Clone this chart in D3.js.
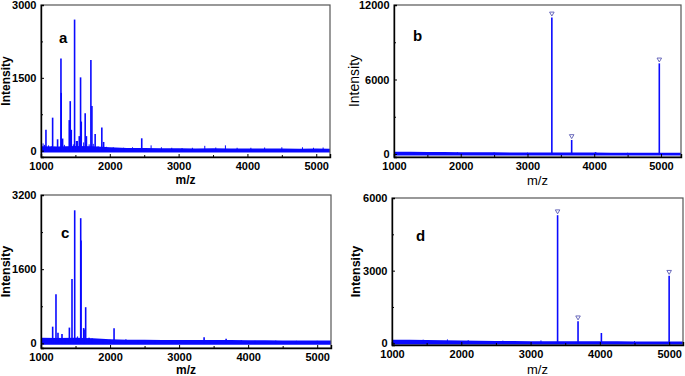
<!DOCTYPE html>
<html>
<head>
<meta charset="utf-8">
<script src="https://cdn.jsdelivr.net/npm/d3@7"></script>
<style>
  body { margin: 0; background: #fff; }
  svg { display: block; font-family: Arial, "Liberation Sans", sans-serif; }
</style>
</head>
<body>
<svg id="chart" width="685" height="376"></svg>
<script>
// ---- data: [m/z, intensity] ----
const peaksA = [[1072, 430], [1169, 680], [1241, 235], [1290, 1900], [1294, 1190], [1314, 250],
  [1411, 630], [1418, 560], [1425, 1020], [1440, 430], [1488, 2700], [1517, 200], [1556, 300],
  [1575, 1510], [1585, 600], [1642, 770], [1660, 300], [1725, 1866], [1740, 920], [1787, 343],
  [1884, 480], [1910, 180], [2464, 255]];
const grassA = [[1030, 150], [1050, 120], [1110, 110], [1150, 90], [1200, 80], [1340, 120], [1360, 80],
  [1470, 130], [1530, 200], [1620, 170], [1700, 130], [1760, 140], [1830, 90], [1950, 80], [2050, 70],
  [2200, 60], [2330, 70], [2600, 110], [2750, 70], [2900, 60], [3050, 55], [3200, 60], [3380, 100],
  [3540, 65], [3680, 110], [3850, 60], [4050, 60], [4250, 65], [4500, 70], [4800, 70], [4960, 60], [5100, 65]];

const peaksB = [[3365, 11000], [3662, 1130], [4020, 150], [4975, 7300]];
const markB = [3365, 3662, 4975];
const grassB = [[1300, 150], [1950, 140], [2500, 120], [3000, 110], [4500, 100]];

const peaksC = [[1169, 360], [1217, 1060], [1246, 230], [1304, 200], [1411, 340], [1449, 1390],
  [1488, 2870], [1522, 120], [1575, 2700], [1580, 2220], [1618, 330], [1624, 300], [1647, 780],
  [1696, 120], [2058, 325], [3362, 130], [3681, 100]];
const grassC = [[1040, 110], [1080, 100], [1120, 90], [1260, 120], [1350, 100], [1530, 150], [1700, 110],
  [1740, 110], [1900, 90], [2000, 80], [2230, 90], [2400, 70], [2650, 70], [2900, 65], [3100, 60],
  [3450, 70], [3550, 60], [3900, 70], [4100, 55], [4400, 60], [4700, 55], [5000, 55]];

const peaksD = [[3390, 5290], [3685, 910], [4022, 425], [5000, 2790]];
const markD = [3390, 3685, 5000];
const grassD = [[1450, 150], [1800, 160], [2100, 130], [2600, 110], [3150, 120], [4500, 90]];

// baseline noise band: top edge sampled along m/z, bottom edge as one level
const noiseMz = [1000, 1250, 1500, 1750, 2000, 2250, 2500, 2750, 3000, 3250, 3500, 3750, 4000, 4250, 4500, 4750, 5000, 5300];
const noiseTopA = [90, 85, 95, 90, 70, 55, 55, 50, 50, 45, 50, 45, 45, 45, 45, 40, 45, 40];
const noiseTopB = [190, 180, 170, 160, 150, 140, 140, 130, 130, 130, 120, 120, 120, 110, 110, 110, 110, 110];
const noiseTopC = [120, 115, 120, 110, 90, 80, 80, 75, 75, 70, 70, 70, 65, 65, 60, 60, 60, 60];
const noiseTopD = [150, 145, 140, 130, 120, 110, 100, 95, 90, 90, 85, 80, 80, 80, 75, 75, 75, 75];
const noiseBottom = { a: -35, b: -110, c: -30, d: -60 };

const yTicks = { a: [0, 1500, 3000], b: [0, 6000, 12000], c: [0, 1600, 3200], d: [0, 3000, 6000] };
const xTicks = [1000, 2000, 3000, 4000, 5000];
const xMinor = [1500, 2500, 3500, 4500];

const panels = [
  { id: "a", left: 41, right: 330, top: 5, bottom: 157, xMax: 5200, yMin: -130, yMax: 3000,
    peaks: peaksA, grass: grassA, noise: noiseTopA, marks: [], bold: true, ytitleX: 10, ytitleSize: 12,
    xtitleY: 184, xtitleSize: 12, letter: [59, 43] },
  { id: "b", left: 394, right: 681, top: 5, bottom: 157, xMax: 5300, yMin: -240, yMax: 12000,
    peaks: peaksB, grass: grassB, noise: noiseTopB, marks: markB, bold: false, ytitleX: 359, ytitleSize: 14,
    xtitleY: 185, xtitleSize: 13, letter: [413, 41] },
  { id: "c", left: 41, right: 331, top: 195, bottom: 348, xMax: 5200, yMin: -100, yMax: 3200,
    peaks: peaksC, grass: grassC, noise: noiseTopC, marks: [], bold: true, ytitleX: 10, ytitleSize: 12.5,
    xtitleY: 374, xtitleSize: 12, letter: [61, 238] },
  { id: "d", left: 392, right: 683, top: 198, bottom: 345, xMax: 5200, yMin: -70, yMax: 6000,
    peaks: peaksD, grass: grassD, noise: noiseTopD, marks: markD, bold: true, ytitleX: 360, ytitleSize: 12.5,
    xtitleY: 374, xtitleSize: 13, letter: [416, 241] }
];

const svg = d3.select("#chart");
const blue = "#0a0aff";

panels.forEach(p => {
  const g = svg.append("g");
  const x = d3.scaleLinear().domain([1000, p.xMax]).range([p.left, p.right]);
  const y = d3.scaleLinear().domain([p.yMin, p.yMax]).range([p.bottom, p.top]);

  g.append("clipPath").attr("id", "clip-" + p.id)
    .append("rect").attr("x", p.left).attr("y", p.top)
    .attr("width", p.right - p.left).attr("height", p.bottom - p.top);

  const plot = g.append("g").attr("clip-path", `url(#clip-${p.id})`);

  // noise band
  const band = noiseMz.map((m, i) => ({ m: m, t: p.noise[i] }));
  plot.append("path")
    .attr("fill", blue)
    .attr("d", d3.area().x(d => x(d.m)).y0(y(noiseBottom[p.id])).y1(d => y(d.t))(band));

  // small spikes and peaks
  plot.selectAll(".grass").data(p.grass).enter().append("line")
    .attr("x1", d => x(d[0])).attr("x2", d => x(d[0]))
    .attr("y1", y(0)).attr("y2", d => y(d[1]))
    .attr("stroke", blue).attr("stroke-width", 1);

  plot.selectAll(".peak").data(p.peaks).enter().append("line")
    .attr("x1", d => x(d[0])).attr("x2", d => x(d[0]))
    .attr("y1", y(0)).attr("y2", d => y(d[1]))
    .attr("stroke", blue).attr("stroke-width", 1.6);

  // open triangles over the marked peaks
  const tri = d3.symbol().type(d3.symbolTriangle).size(9);
  p.marks.forEach(m => {
    const pk = p.peaks.find(d => d[0] === m);
    g.append("path")
      .attr("d", tri())
      .attr("transform", `translate(${x(m)},${y(pk[1]) - 4}) rotate(180)`)
      .attr("fill", "none").attr("stroke", "#5a5ab4").attr("stroke-width", 0.9);
  });

  // frame
  g.append("rect").attr("x", p.left).attr("y", p.top)
    .attr("width", p.right - p.left).attr("height", p.bottom - p.top)
    .attr("fill", "none").attr("stroke", "#555").attr("stroke-width", 1.2);

  // axes with inward ticks
  const xAxis = g.append("g").attr("transform", `translate(0,${p.bottom})`)
    .call(d3.axisBottom(x).tickValues(xTicks).tickSize(-3).tickPadding(5).tickFormat(d3.format("d")));
  g.append("g").attr("transform", `translate(0,${p.bottom})`)
    .call(d3.axisBottom(x).tickValues(xMinor).tickSize(-2).tickFormat(""))
    .select(".domain").remove();
  const yAxis = g.append("g").attr("transform", `translate(${p.left},0)`)
    .call(d3.axisLeft(y).tickValues(yTicks[p.id]).tickSize(-3).tickPadding(4.5).tickFormat(d3.format("d")));
  const yt = yTicks[p.id];
  g.append("g").attr("transform", `translate(${p.left},0)`)
    .call(d3.axisLeft(y).tickValues([yt[1] / 2, (yt[1] + yt[2]) / 2]).tickSize(-2).tickFormat(""))
    .select(".domain").remove();

  g.selectAll(".domain").attr("stroke", "#000").attr("stroke-width", 1.4);
  g.selectAll(".tick line").attr("stroke", "#000");
  [xAxis, yAxis].forEach(ax => ax.selectAll("text")
    .attr("font-size", 11).attr("font-weight", "bold").attr("fill", "#000")
    .attr("font-family", "Arial, 'Liberation Sans', sans-serif"));

  // axis titles
  g.append("text")
    .attr("transform", `translate(${p.ytitleX},${(p.top + p.bottom) / 2}) rotate(-90)`)
    .attr("text-anchor", "middle")
    .attr("font-size", p.ytitleSize).attr("font-weight", p.bold ? "bold" : "normal")
    .text("Intensity");
  g.append("text")
    .attr("x", (p.left + p.right) / 2 + 0).attr("y", p.xtitleY)
    .attr("text-anchor", "middle")
    .attr("font-size", p.xtitleSize).attr("font-weight", p.id === "a" || p.id === "c" ? "bold" : "normal")
    .text("m/z");

  // panel letter
  g.append("text")
    .attr("x", p.letter[0]).attr("y", p.letter[1])
    .attr("font-size", 15).attr("font-weight", "bold")
    .text(p.id);
});
</script>
</body>
</html>
